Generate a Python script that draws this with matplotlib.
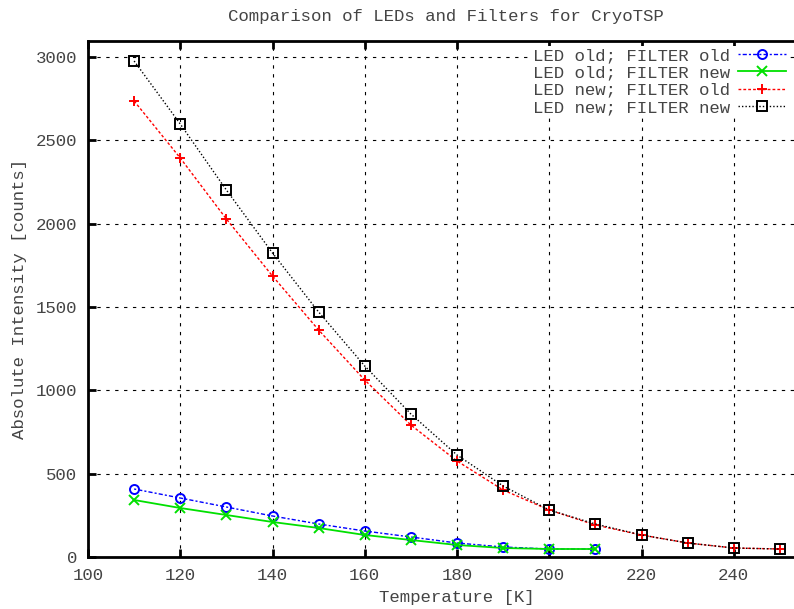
import matplotlib
matplotlib.use("Agg")
import matplotlib.pyplot as plt

temps_a = [110, 120, 130, 140, 150, 160, 170, 180, 190, 200, 210]
led_old_filter_old = [408, 354, 300, 246, 198, 156, 120, 84, 60, 48, 48]
led_old_filter_new = [342, 294, 252, 210, 174, 132, 102, 72, 54, 48, 48]

temps_b = [110, 120, 130, 140, 150, 160, 170, 180, 190, 200, 210, 220, 230, 240, 250]
led_new_filter_old = [2736, 2394, 2028, 1686, 1362, 1062, 792, 576, 402, 282, 192, 132, 84, 54, 48]
led_new_filter_new = [2976, 2598, 2202, 1824, 1470, 1146, 858, 612, 426, 282, 198, 132, 84, 54, 48]

labels = ["LED old; FILTER old", "LED old; FILTER new",
          "LED new; FILTER old", "LED new; FILTER new"]
xticks = [100, 120, 140, 160, 180, 200, 220, 240]
yticks = [0, 500, 1000, 1500, 2000, 2500, 3000]

plt.rcParams['font.family'] = ['Liberation Mono', 'DejaVu Sans Mono']
FS = 12.5
plt.rcParams['font.size'] = FS
TXT = '#444444'

W, H = 794, 609
fig = plt.figure(figsize=(W / 100, H / 100), dpi=100)
left, right, top, bottom = 88, 826, 41, 557
ax = fig.add_axes([left / W, 1 - bottom / H, (right - left) / W, (bottom - top) / H])

ax.plot(temps_a, led_old_filter_old, color='#0000ff', linestyle=(0, (1.5, 1.5, 3, 1.5)), lw=1,
        marker='o', ms=6.5, mfc='none', mew=1.4, label=labels[0])
ax.plot(temps_a, led_old_filter_new, color='#00e000', linestyle='-', lw=1.3,
        marker='x', ms=6.5, mew=1.4, label=labels[1])
ax.plot(temps_b, led_new_filter_old, color='#ff0000', linestyle=(0, (2, 1.5)), lw=1,
        marker='+', ms=7.5, mew=1.4, label=labels[2])
ax.plot(temps_b, led_new_filter_new, color='#000000', linestyle=(0, (1, 1.5)), lw=1,
        marker='s', ms=6.5, mfc='none', mew=1.4, label=labels[3])

ax.set_xlim(100, 260)
ax.set_ylim(0, 3096)
ax.set_xticks(xticks)
ax.set_yticks(yticks)
ax.grid(True, color='black', linestyle=(0, (3, 5)), lw=0.8)
ax.tick_params(direction='in', length=6, width=2, top=True, right=True,
               labelcolor=TXT, pad=8, labelsize=FS)
for s in ax.spines.values():
    s.set_linewidth(2)

ax.set_xlabel('Temperature [K]', color=TXT, labelpad=5)
ax.set_ylabel('Absolute Intensity [counts]', color=TXT, labelpad=6)
fig.text(446 / W, 1 - 17 / H, 'Comparison of LEDs and Filters for CryoTSP',
         ha='center', va='center', color=TXT, fontsize=FS)

leg = ax.legend(loc='upper right', bbox_to_anchor=(788 / W, 1 - 46 / H),
                bbox_transform=fig.transFigure,
                frameon=True, facecolor='white', edgecolor='none', framealpha=1,
                fancybox=False, markerfirst=False, handlelength=2.76, handletextpad=0.46,
                labelspacing=0.13, borderaxespad=0, borderpad=0.1, fontsize=FS)
for t in leg.get_texts():
    t.set_color(TXT)

fig.savefig('out.png', dpi=100)
